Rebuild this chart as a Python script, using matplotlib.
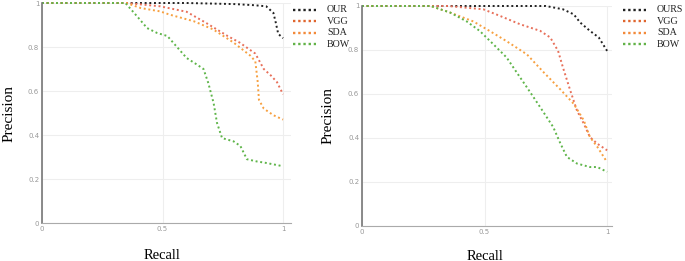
import matplotlib
matplotlib.use("Agg")
import matplotlib.pyplot as plt
from matplotlib.lines import Line2D

# ---------------- data ----------------
labels_left = ["OUR", "VGG", "SDA", "BOW"]
labels_right = ["OURS", "VGG", "SDA", "BOW"]

# left panel
L_our_r = [0, 0.35, 0.6, 0.8, 0.88, 0.93, 0.96, 0.97, 0.98, 1.0]
L_our_p = [1, 1, 1, 0.995, 0.99, 0.985, 0.955, 0.91, 0.86, 0.84]
L_vgg_r = [0, 0.35, 0.49, 0.6, 0.68, 0.77, 0.82, 0.885, 0.92, 0.95, 0.975, 1.0]
L_vgg_p = [1, 1, 0.985, 0.96, 0.91, 0.85, 0.82, 0.77, 0.70, 0.67, 0.64, 0.585]
L_sda_r = [0, 0.35, 0.41, 0.49, 0.53, 0.63, 0.71, 0.795, 0.865, 0.885, 0.895, 0.9, 0.92, 0.96, 1.0]
L_sda_p = [1, 1, 0.977, 0.962, 0.947, 0.917, 0.88, 0.82, 0.76, 0.735, 0.64, 0.56, 0.52, 0.49, 0.47]
L_bow_r = [0, 0.346, 0.394, 0.436, 0.477, 0.52, 0.56, 0.60, 0.643, 0.67, 0.69, 0.712, 0.726,
           0.747, 0.795, 0.823, 0.85, 0.89, 0.93, 1.0]
L_bow_p = [1, 1, 0.94, 0.886, 0.864, 0.85, 0.80, 0.75, 0.72, 0.70, 0.636, 0.545, 0.455,
           0.386, 0.371, 0.35, 0.29, 0.28, 0.273, 0.258]

# right panel
R_our_r = [0, 0.5, 0.75, 0.82, 0.864, 0.89, 0.93, 0.966, 1.0]
R_our_p = [1, 1, 1, 0.985, 0.962, 0.925, 0.887, 0.857, 0.796]
R_vgg_r = [0, 0.35, 0.495, 0.563, 0.645, 0.727, 0.768, 0.8, 0.82, 0.85, 0.877, 0.905, 0.93, 0.96, 1.0]
R_vgg_p = [1, 1, 0.985, 0.955, 0.917, 0.887, 0.857, 0.796, 0.72, 0.615, 0.525, 0.465, 0.404, 0.374, 0.344]
R_sda_r = [0, 0.28, 0.36, 0.454, 0.52, 0.59, 0.673, 0.74, 0.81, 0.864, 0.905, 0.93, 0.96, 1.0]
R_sda_p = [1, 1, 0.97, 0.93, 0.887, 0.84, 0.78, 0.70, 0.62, 0.555, 0.48, 0.404, 0.36, 0.29]
R_bow_r = [0, 0.28, 0.36, 0.427, 0.48, 0.536, 0.59, 0.63, 0.673, 0.727, 0.78, 0.81, 0.836,
           0.877, 0.93, 0.96, 1.0]
R_bow_p = [1, 1, 0.97, 0.93, 0.887, 0.826, 0.766, 0.70, 0.63, 0.54, 0.45, 0.374, 0.314,
           0.284, 0.268, 0.268, 0.246]

y_ticks = [0, 0.2, 0.4, 0.6, 0.8, 1]
y_ticklabels = ["0", "0.2", "0.4", "0.6", "0.8", "1"]
x_ticks = [0, 0.5, 1]
x_ticklabels = ["0", "0.5", "1"]

colors = ["#222222", "#e8705a", "#f7a040", "#5fb54a"]
legend_colors = ["#222222", "#e0652e", "#f38a3a", "#62b248"]

serif = "Liberation Serif"
W, H = 685, 261

fig = plt.figure(figsize=(6.85, 2.61), dpi=100)
DOT = (0, (1, 1.4))


def make_panel(rect, xmax, series, labels, xlab_y, leg_x0, leg_x1, leg_tx):
    ax = fig.add_axes(rect)
    ax.set_xlim(0, xmax)
    ax.set_ylim(0, 1)
    for s in ["top", "right"]:
        ax.spines[s].set_visible(False)
    ax.spines["left"].set_color("#777777")
    ax.spines["left"].set_linewidth(1.2)
    ax.spines["bottom"].set_color("#aaaaaa")
    ax.spines["bottom"].set_linewidth(0.8)
    ax.set_yticks(y_ticks)
    ax.set_yticklabels(y_ticklabels)
    ax.set_xticks(x_ticks)
    ax.set_xticklabels(x_ticklabels)
    ax.tick_params(length=0, labelsize=5, labelcolor="#999999", pad=2)
    ax.grid(True, color="#eeeeee", linewidth=0.8)
    ax.set_axisbelow(True)
    for (r, p), c, lab in zip(series, colors, labels):
        ax.plot(r, p, color=c, linestyle=DOT, linewidth=1.4, clip_on=False, label=lab)
    ax.set_xlabel("Recall", family=serif, fontsize=10.5)
    ax.set_ylabel("Precision", family=serif, fontsize=11)
    ax.xaxis.set_label_coords(0.5 / xmax, xlab_y)
    ax.yaxis.set_label_coords(-0.108, 0.5)
    # legend drawn in figure pixel coordinates
    for i, (lab, c) in enumerate(zip(labels, legend_colors)):
        ypx = 10 + 11.4 * i
        fy = 1 - ypx / H
        fig.add_artist(Line2D([leg_x0 / W, leg_x1 / W], [fy, fy], color=c,
                              linestyle=(0, (1, 1.2)), linewidth=1.7,
                              transform=fig.transFigure))
        fig.text(leg_tx / W, fy, lab, family=serif, fontsize=7.2, color="#222222",
                 ha="left", va="center")
    return ax


left_series = [(L_our_r, L_our_p), (L_vgg_r, L_vgg_p), (L_sda_r, L_sda_p), (L_bow_r, L_bow_p)]
right_series = [(R_our_r, R_our_p), (R_vgg_r, R_vgg_p), (R_sda_r, R_sda_p), (R_bow_r, R_bow_p)]

axL = make_panel([42 / W, 1 - 223 / H, 249 / W, 220 / H], 1.033,
                 left_series, labels_left, -0.12, 293, 316, 327)
axR = make_panel([362 / W, 1 - 226 / H, 250 / W, 220 / H], 1.02,
                 right_series, labels_right, -0.107, 623, 646, 657)

fig.savefig("out.png", dpi=100)
